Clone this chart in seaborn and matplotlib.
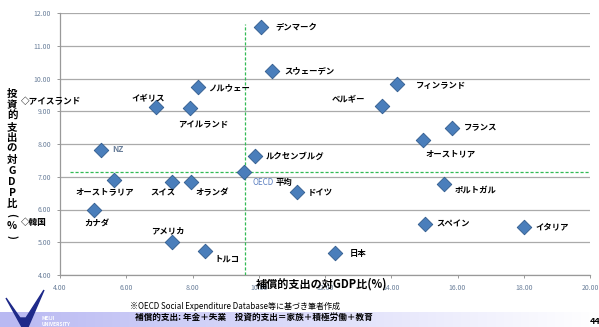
import numpy as np
import pandas as pd
import matplotlib
matplotlib.use("Agg")
import matplotlib.pyplot as plt
import seaborn as sns
from matplotlib.patches import Polygon
from matplotlib.colors import LinearSegmentedColormap

# ---- data ----
countries = ["デンマーク", "スウェーデン", "フィンランド", "ベルギー", "フランス", "オーストリア",
             "ノルウェー", "イギリス", "アイルランド", "NZ", "ルクセンブルグ", "OECD平均",
             "オーストラリア", "スイス", "オランダ", "ドイツ", "ポルトガル", "カナダ",
             "スペイン", "イタリア", "アメリカ", "トルコ", "日本"]
compensatory = [10.08, 10.39, 14.18, 13.73, 15.84, 14.96,
                8.16, 6.89, 7.92, 5.23, 9.90, 9.55,
                5.63, 7.37, 7.95, 11.14, 15.60, 5.02,
                15.02, 18.00, 7.37, 8.37, 12.31]
investment = [11.57, 10.23, 9.83, 9.16, 8.49, 8.12,
              9.74, 9.13, 9.10, 7.82, 7.63, 7.14,
              6.90, 6.84, 6.84, 6.53, 6.78, 5.98,
              5.56, 5.47, 5.00, 4.73, 4.67]
oecd_x = 9.57
oecd_y = 7.16
x_ticks = [4, 6, 8, 10, 12, 14, 16, 18, 20]
y_ticks = [4, 5, 6, 7, 8, 9, 10, 11, 12]

df = pd.DataFrame({"country": countries, "comp": compensatory, "inv": investment})

# label offsets in pixels (dx, dy, ha)
offsets = {
    "デンマーク": (14, 0, "left"), "スウェーデン": (13, 0, "left"),
    "フィンランド": (19, -1, "left"), "ベルギー": (-34, 7, "center"),
    "フランス": (12, 0, "left"), "オーストリア": (28, -14, "center"),
    "ノルウェー": (10, -1, "left"), "イギリス": (-8, 9, "center"),
    "アイルランド": (13, -17, "center"), "NZ": (12, 0, "left"),
    "ルクセンブルグ": (10, 0, "left"), "OECD平均": (9, -10, "left"),
    "オーストラリア": (-9, -12, "center"), "スイス": (-9, -11, "center"),
    "オランダ": (21, -11, "center"), "ドイツ": (11, 0, "left"),
    "ポルトガル": (10, -6, "left"), "カナダ": (3, -13, "center"),
    "スペイン": (11, 0, "left"), "イタリア": (12, 0, "left"),
    "アメリカ": (-4, 11, "center"), "トルコ": (10, -8, "left"),
    "日本": (14, 0, "left"),
}

sns.set_theme(style="white")
plt.rcParams['font.family'] = ['Noto Sans CJK JP', 'DejaVu Sans']

W, H = 599, 327
fig = plt.figure(figsize=(W / 100, H / 100), dpi=100)

# bottom lavender band
bg = fig.add_axes([0, 0, 1, 15 / H], zorder=-5)
grad = np.linspace(0, 1, 256)[None, :]
cmap = LinearSegmentedColormap.from_list("band", ["#b9b9f2", "#dcdcfa", "#ffffff"])
bg.imshow(grad, aspect="auto", cmap=cmap, extent=[0, 1, 0, 1])
bg.axis("off")

ax = fig.add_axes([60 / W, 1 - 275 / H, 530 / W, 262 / H])
sns.scatterplot(data=df, x="comp", y="inv", ax=ax, marker="D", s=55,
                color="#4a7ebb", edgecolor="#2f5a8c", linewidth=0.6, zorder=4, legend=False)

ax.set_xlim(4, 20)
ax.set_ylim(4, 12)
ax.set_xticks(x_ticks)
ax.set_yticks(y_ticks)
ax.set_xticklabels([f"{v:.2f}" for v in x_ticks], fontsize=5, color="#6a7f9a")
ax.set_yticklabels([f"{v:.2f}" for v in y_ticks], fontsize=5, color="#6a7f9a")
ax.tick_params(axis="both", length=2.5, width=0.6, color="#888888", pad=4, direction="out")
ax.tick_params(axis="x", bottom=True)
ax.tick_params(axis="y", left=True)
ax.yaxis.grid(True, color="#aaaaaa", linewidth=0.9)
ax.xaxis.grid(False)
for s in ["top", "right"]:
    ax.spines[s].set_visible(False)
for s in ["left", "bottom"]:
    ax.spines[s].set_color("#999999")
    ax.spines[s].set_linewidth(0.9)
ax.set_xlabel("")
ax.set_ylabel("")

# OECD average dashed lines
ax.plot([oecd_x, oecd_x], [4.0, 11.65], ls=(0, (2.5, 1.5)), color="#33bb55", lw=0.9, zorder=3)
ax.plot([4.3, 20], [oecd_y, oecd_y], ls=(0, (2.5, 1.5)), color="#33bb55", lw=0.9, zorder=3)

# labels
for c, x, y in zip(countries, compensatory, investment):
    dx, dy, ha = offsets[c]
    if c == "OECD平均":
        ax.annotate("OECD", (x, y), xytext=(dx * 0.72, dy * 0.72), textcoords="offset points",
                    ha="left", va="center", fontsize=5.8, color="#5b7fc0", zorder=5)
        ax.annotate("平均", (x, y), xytext=((dx + 23) * 0.72, dy * 0.72), textcoords="offset points",
                    ha="left", va="center", fontsize=6, color="black", fontweight="bold", zorder=5)
        continue
    color = "#6a7f9a" if c == "NZ" else "black"
    ax.annotate(c, (x, y), xytext=(dx * 0.72, dy * 0.72), textcoords="offset points",
                ha=ha, va="center", fontsize=6, color=color, fontweight="bold", zorder=5)

# axis titles
fig.text(322 / W, 1 - 284 / H, "補償的支出の対GDP比(%)", ha="center", va="center",
         fontsize=8, fontweight="bold", color="black")
ylab_chars = ["投", "資", "的", "支", "出", "の", "対", "G", "D", "P", "比", "(", "%", ")"]
y0 = 94
for i, ch in enumerate(ylab_chars):
    rot = 270 if ch in "()" else 0
    fig.text(12 / W, 1 - (y0 + i * 11.0) / H, ch, ha="center", va="center",
             fontsize=7.5, fontweight="bold", rotation=rot, color="black")

# side annotations
fig.text(21 / W, 1 - 102 / H, "◇アイスランド", ha="left", va="center", fontsize=6.2,
         fontweight="bold", color="black")
fig.text(21 / W, 1 - 223 / H, "◇韓国", ha="left", va="center", fontsize=6.2,
         fontweight="bold", color="black")

# footer
fig.text(130 / W, 1 - 306 / H, "※OECD Social Expenditure Database等に基づき筆者作成",
         ha="left", va="center", fontsize=5.8, color="black")
fig.text(135 / W, 1 - 317 / H, "補償的支出: 年金＋失業　投資的支出＝家族＋積極労働＋教育",
         ha="left", va="center", fontsize=6.2, fontweight="bold", color="black")
fig.text(590 / W, 1 - 322 / H, "44", ha="left", va="center", fontsize=6.5, fontweight="bold", color="black")

# simple logo
logo = fig.add_axes([0, 0, 1, 1], zorder=-4)
logo.set_xlim(0, W)
logo.set_ylim(H, 0)
logo.axis("off")
logo.add_patch(Polygon([[6, 298], [22, 327], [28, 327], [44, 290], [26, 318], [20, 318]],
                       closed=True, color="#1f2a8a"))
logo.text(42, 318, "MEIJI", fontsize=3.5, color="#ffffff", fontweight="bold", va="center")
logo.text(42, 325, "UNIVERSITY", fontsize=3.5, color="#ffffff", fontweight="bold", va="center")

fig.savefig("out.png", dpi=100)
